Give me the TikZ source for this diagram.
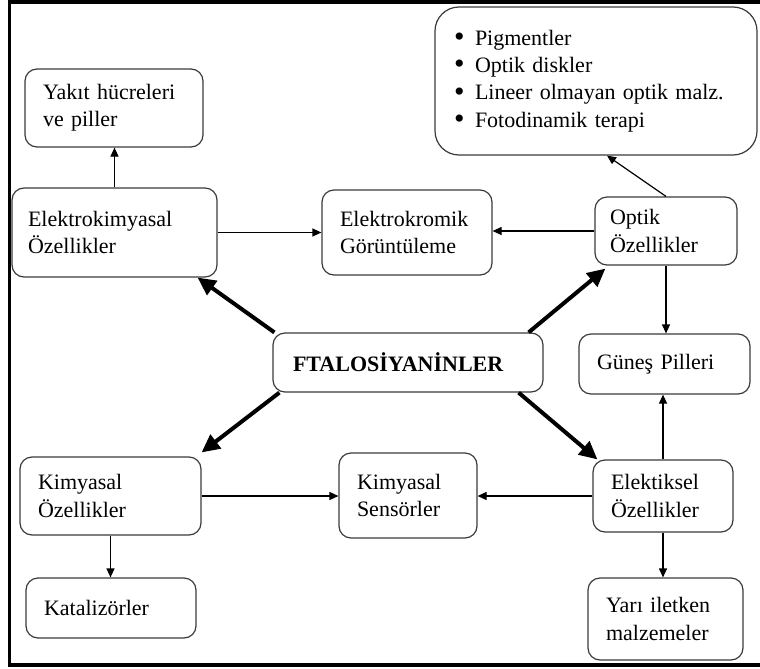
\documentclass[tikz,border=0pt]{standalone}
\usepackage{fontspec}
\setmainfont{Liberation Serif}
\usetikzlibrary{arrows.meta}
\definecolor{boxline}{HTML}{3A3A3A}
\newcommand\bigbul{\hspace*{1pt}\makebox[10.5pt][l]{\raisebox{-0.6pt}{\fontsize{15pt}{0pt}\selectfont\textbullet}}}
\begin{document}
\begin{tikzpicture}[x=0.5pt,y=-0.5pt,
  font=\fontsize{11pt}{13.7pt}\selectfont,
  box/.style={draw=boxline, line width=0.6pt, rounded corners=6pt, align=left, inner xsep=9pt, inner ysep=0pt},
  smallarrow/.style={line width=0.6pt, -{Triangle[length=4.5pt,width=4pt]}},
  bigarrow/.style={line width=2pt, -{Triangle[length=9pt,width=8.5pt]}}]
\useasboundingbox (0,0) rectangle (760,669);
\draw[line width=1.75pt] (760,2) -- (9.5,2) -- (9.5,665) -- (760,665);

\node[box, minimum width=89pt, minimum height=39pt, text width=71pt] (yakit) at (114,108) {Yakıt hücreleri\\ve piller};
\node[box, inner xsep=8pt, minimum width=102.5pt, minimum height=44.5pt, text width=86.5pt] (ekim) at (114.5,232.5) {Elektrokimyasal\\Özellikler};
\node[box, minimum width=85pt, minimum height=42.5pt, text width=67pt] (ekrom) at (407,232.5) {Elektrokromik\\Görüntüleme};
\node[box, rounded corners=12pt, inner xsep=8.5pt, minimum width=161pt, minimum height=74pt, text width=144pt] (pig) at (596,81)
  {\bigbul Pigmentler\\
   \bigbul Optik diskler\\
   \bigbul Lineer olmayan optik malz.\\
   \bigbul Fotodinamik terapi};
\node[box, inner xsep=7.5pt, minimum width=71pt, minimum height=34pt, text width=56pt] (optik) at (666,231) {Optik\\Özellikler};
\node[box, inner xsep=10pt, minimum width=135pt, minimum height=29.5pt, text width=115pt, font=\fontsize{11pt}{13.7pt}\selectfont\bfseries] (ftal) at (408,362.5) {FTALOSİYANİNLER};
\node[box, minimum width=85.5pt, minimum height=30pt, text width=67.5pt] (gunes) at (664.5,364) {Güneş Pilleri};
\node[box, minimum width=90.5pt, minimum height=39pt, text width=72.5pt] (kimoz) at (110.5,496) {Kimyasal\\Özellikler};
\node[box, minimum width=69pt, minimum height=42.5pt, text width=51pt] (kimsen) at (408,495.5) {Kimyasal\\Sensörler};
\node[box, minimum width=70pt, minimum height=36pt, text width=52pt] (elek) at (663,496) {Elektiksel\\Özellikler};
\node[box, minimum width=85pt, minimum height=30pt, text width=67pt] (katal) at (111,608) {Katalizörler};
\node[box, minimum width=77.5pt, minimum height=41pt, text width=59.5pt] (yari) at (665.5,619) {Yarı iletken\\malzemeler};

\draw[smallarrow] (ekim.north) -- (ekim.north |- yakit.south);
\draw[smallarrow] (ekim.east) -- (ekrom.west);
\draw[smallarrow] (optik.west) -- (optik.west -| ekrom.east);
\draw[smallarrow] (optik.north) -- ([xshift=5.5pt]pig.south);
\draw[smallarrow] (optik.south) -- (optik.south |- gunes.north);
\draw[smallarrow] (elek.north) -- (elek.north |- gunes.south);
\draw[smallarrow] (elek.west) -- (elek.west -| kimsen.east);
\draw[smallarrow] (elek.south) -- (elek.south |- yari.north);
\draw[smallarrow] (kimoz.east) -- (kimoz.east -| kimsen.west);
\draw[smallarrow] (kimoz.south) -- (kimoz.south |- katal.north);

\draw[bigarrow] ([xshift=1pt]ftal.north west) -- ([xshift=-10pt]ekim.south east);
\draw[bigarrow] ([xshift=-7.5pt]ftal.north east) -- ([xshift=5.5pt,yshift=-1.5pt]optik.south west);
\draw[bigarrow] ([xshift=3.5pt]ftal.south west) -- ([yshift=2pt]kimoz.north east);
\draw[bigarrow] ([xshift=-12.5pt]ftal.south east) -- ([xshift=2.5pt]elek.north west);
\end{tikzpicture}
\end{document}
